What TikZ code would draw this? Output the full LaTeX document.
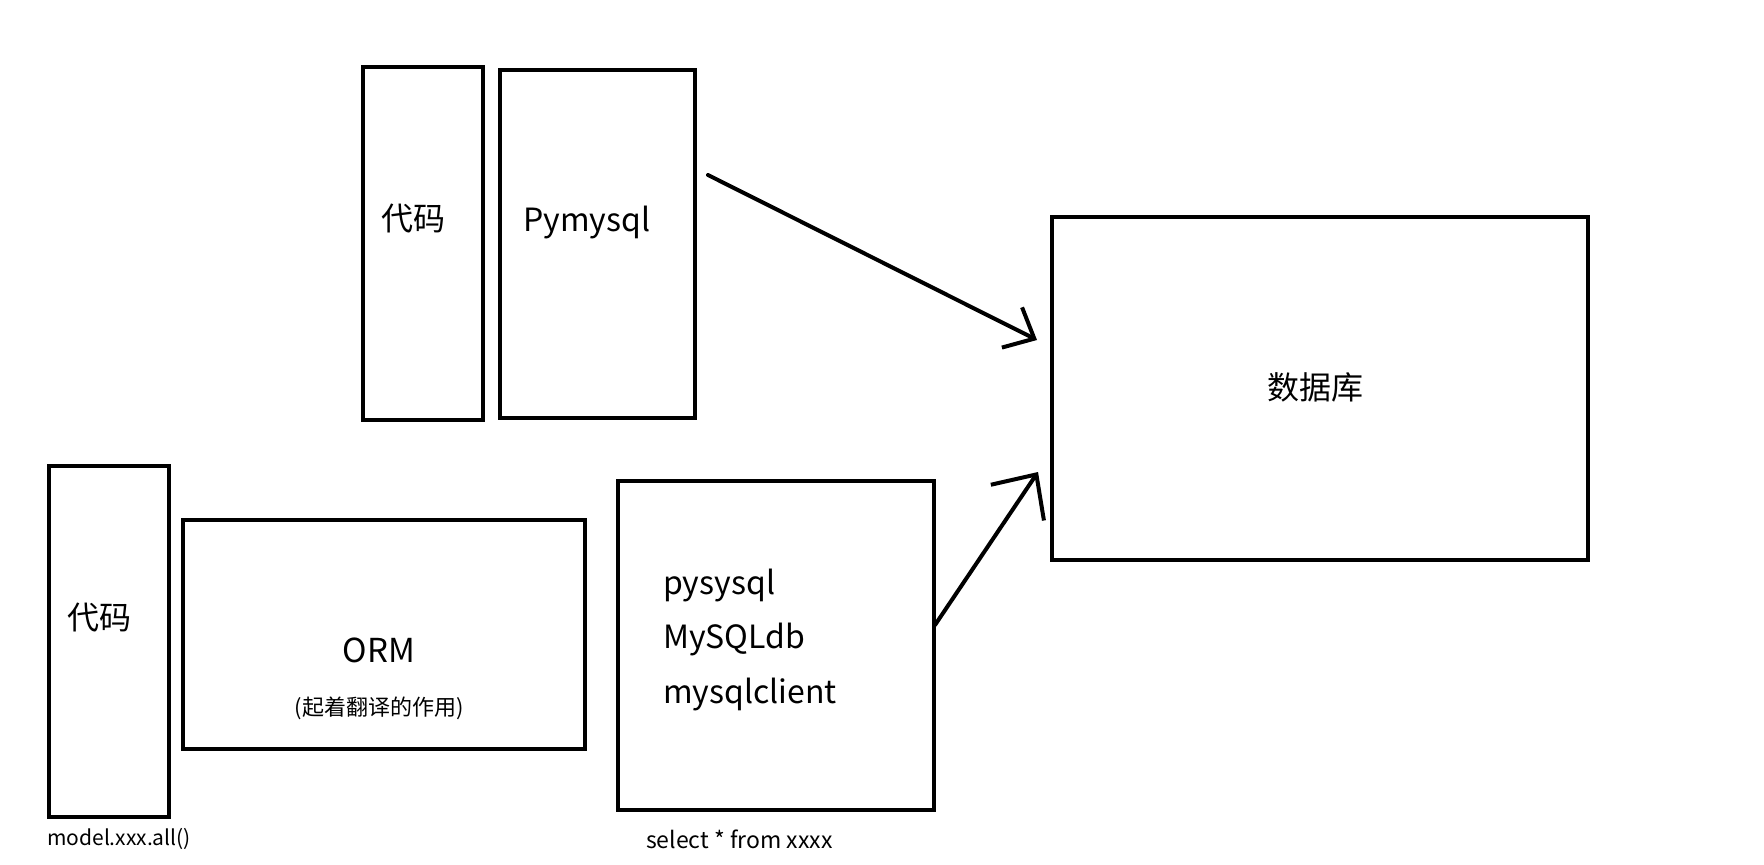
\documentclass[tikz,border=0pt]{standalone}
\usepackage{fontspec}
\setmainfont{Noto Sans CJK SC}
\usetikzlibrary{arrows.meta}
\tikzset{
  box/.style={draw=black, line width=4bp, inner sep=0pt, rectangle},
  big/.style={font=\fontsize{32bp}{38bp}\selectfont, inner sep=0pt},
  mid/.style={font=\fontsize{22bp}{26bp}\selectfont, inner sep=0pt},
  small/.style={font=\fontsize{21bp}{25bp}\selectfont, inner sep=0pt},
  conn/.style={line width=4bp, line cap=round, line join=round}
}
\begin{document}
\begin{tikzpicture}[x=1bp,y=-1bp]
\useasboundingbox (0,0) rectangle (1764,865);
\node[box, minimum width=120bp, minimum height=353bp] (code1) at (423,243.5) {};
\node[box, minimum width=195bp, minimum height=348bp] (pym) at (597.5,244) {};
\node[box, minimum width=536bp, minimum height=343bp] (db) at (1320,388.5) {};
\node[box, minimum width=120bp, minimum height=351bp] (code2) at (109,641.5) {};
\node[box, minimum width=402bp, minimum height=229bp] (orm) at (384,634.5) {};
\node[box, minimum width=316bp, minimum height=329bp] (drv) at (776,645.5) {};

\node[big] (t1) at (413,219) {代码};
\node[big, anchor=west] (t2) at (523,223) {Pymysql};
\node[big] (t3) at (1315,387) {数据库};
\node[big] (t4) at (99,618) {代码};
\node[big, font=\fontsize{33bp}{38bp}\selectfont] (t5) at (379,650) {ORM};
\node[mid] (t6) at (379,708) {(起着翻译的作用)};
\node[big, anchor=west] (t7) at (663,586) {pysysql};
\node[big, anchor=west] (t8) at (663,639) {MySQLdb};
\node[big, anchor=west] (t9) at (663,694) {mysqlclient};
\node[small, anchor=west] (t10) at (47,839) {model.xxx.all()};
\node[small, anchor=west, font=\fontsize{23bp}{27bp}\selectfont] (t11) at (646,839) {select * from xxxx};

\coordinate (a1s) at (708,175);
\coordinate (a1e) at (1037,340);
\coordinate (a2s) at (935,625);
\coordinate (a2e) at (1038,472);
\draw[conn, -{Straight Barb[length=25bp, width=45bp, line width=4bp]}] (a1s) -- (a1e);
\draw[conn, -{Straight Barb[length=34bp, width=64bp, line width=4bp]}] (a2s) -- (a2e);
\end{tikzpicture}
\end{document}
